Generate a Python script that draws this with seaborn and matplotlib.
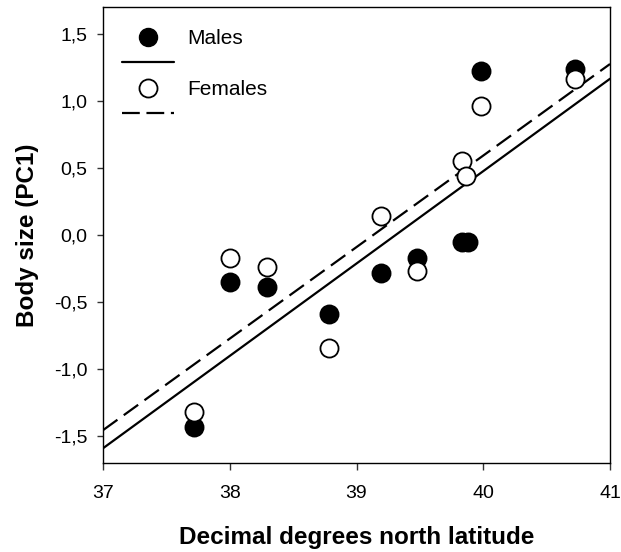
import pandas as pd
import matplotlib.pyplot as plt
import seaborn as sns
from matplotlib.lines import Line2D

sns.set_theme(style="ticks")
plt.rcParams['font.family'] = ['Liberation Sans', 'DejaVu Sans']
plt.rcParams['text.color'] = 'black'
plt.rcParams['axes.labelcolor'] = 'black'

# Datos
lat_males = [37.72, 38.0, 38.29, 38.78, 39.19, 39.48, 39.83, 39.88, 39.98, 40.72]
pc1_males = [-1.43, -0.35, -0.39, -0.59, -0.28, -0.17, -0.05, -0.05, 1.22, 1.24]
lat_females = [37.72, 38.0, 38.29, 38.78, 39.19, 39.48, 39.83, 39.86, 39.98, 40.72]
pc1_females = [-1.32, -0.17, -0.24, -0.84, 0.14, -0.27, 0.55, 0.44, 0.96, 1.16]

# Rectas de regresion (extremos en x = 37 y x = 41)
fit_x = [37, 41]
fit_males = [-1.59, 1.165]
fit_females = [-1.455, 1.275]

df_m = pd.DataFrame({'lat': lat_males, 'pc1': pc1_males})
df_f = pd.DataFrame({'lat': lat_females, 'pc1': pc1_females})

fig = plt.figure(figsize=(6.21, 5.52), dpi=100)
ax = fig.add_axes([0.1659, 0.1612, 0.8164, 0.8261])

sns.lineplot(x=fit_x, y=fit_males, color='black', linewidth=1.6, ax=ax)
sns.lineplot(x=fit_x, y=fit_females, color='black', linewidth=1.6, ax=ax)
ax.lines[-1].set_dashes([8, 3.5])

sns.scatterplot(data=df_m, x='lat', y='pc1', color='black', edgecolor='black',
                s=170, linewidth=1.3, ax=ax, zorder=3)
sns.scatterplot(data=df_f, x='lat', y='pc1', color='white', edgecolor='black',
                s=170, linewidth=1.3, ax=ax, zorder=4)

ax.set_xlim(37, 41)
ax.set_ylim(-1.7, 1.7)
ax.set_xticks([37, 38, 39, 40, 41])
ax.set_yticks([-1.5, -1.0, -0.5, 0.0, 0.5, 1.0, 1.5])
ax.set_yticklabels([f"{v:.1f}".replace('.', ',') for v in ax.get_yticks()])
ax.tick_params(labelsize=14, width=1, colors='#333333', labelcolor='black')
ax.tick_params(axis='x', length=5, pad=11)
ax.tick_params(axis='y', length=4, pad=7)
for sp in ax.spines.values():
    sp.set_visible(True)
    sp.set_color('black')
    sp.set_linewidth(1)

ax.set_xlabel("Decimal degrees north latitude", fontsize=17.5, fontweight='bold', labelpad=17)
ax.set_ylabel("Body size (PC1)", fontsize=17.5, fontweight='bold', labelpad=11)

handles = [
    Line2D([], [], linestyle='none', marker='o', markersize=13, markerfacecolor='black', markeredgecolor='black'),
    Line2D([], [], color='black', linewidth=1.6),
    Line2D([], [], linestyle='none', marker='o', markersize=13, markerfacecolor='white', markeredgecolor='black', markeredgewidth=1.3),
    Line2D([], [], color='black', linewidth=1.6, dashes=[8, 3]),
]
ax.legend(handles, ['Males', '', 'Females', ''], loc='upper left', frameon=False,
          fontsize=15, handlelength=2.5, handletextpad=0.62, labelspacing=0.3,
          bbox_to_anchor=(0.0, 0.992))

plt.savefig("out.png", dpi=100)
